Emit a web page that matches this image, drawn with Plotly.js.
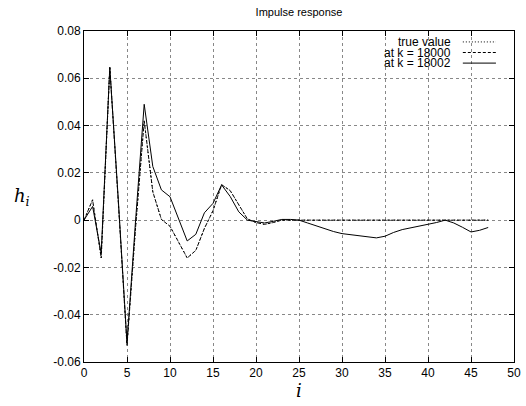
<!DOCTYPE html>
<html>
<head>
<meta charset="utf-8">
<script src="https://cdn.plot.ly/plotly-3.0.1.min.js"></script>
<style>html,body{margin:0;padding:0;background:#fff;}#chart{width:526px;height:406px;}</style>
</head>
<body>
<div id="chart"></div>
<script>
// ---- data ----
const idx = [];
for (let k = 0; k <= 47; k++) idx.push(k);
const trueValue = [0, 0.0086, -0.016, 0.0646, 0.007, -0.053, -0.003, 0.042, 0.012, 0.0003,
  -0.0026, -0.009, -0.016, -0.0128, -0.0035, 0.004, 0.015, 0.0125, 0.0064, 0.0005,
  -0.001, -0.0018, -0.001, 0, 0, 0, 0, 0, 0, 0,
  0, 0, 0, 0, 0, 0, 0, 0, 0, 0,
  0, 0, 0, 0, 0, 0, 0, 0];
const k18000 = [0, 0.0086, -0.016, 0.0646, 0.007, -0.053, -0.003, 0.042, 0.012, 0.0003,
  -0.0026, -0.009, -0.016, -0.0128, -0.0035, 0.004, 0.015, 0.0125, 0.0064, 0.0005,
  -0.001, -0.0018, -0.001, 0, 0, 0, 0, 0, 0, 0,
  0, 0, 0, 0, 0, 0, 0, 0, 0, 0,
  0, 0, 0, 0, 0, 0, 0, 0];
const k18002 = [0, 0.0058, -0.014, 0.0646, 0.008, -0.052, 0.0, 0.049, 0.0227, 0.0128,
  0.0099, 0.0005, -0.0088, -0.006, 0.0031, 0.0071, 0.0149, 0.010, 0.0035, 0.0,
  -0.0005, -0.0012, -0.0005, 0.0003, 0.0003, 0.0, -0.0012, -0.0025, -0.0037, -0.0048,
  -0.0057, -0.0061, -0.0064, -0.007, -0.0075, -0.0068, -0.0052, -0.004, -0.0033, -0.0026,
  -0.0018, -0.001, 0.0, -0.0012, -0.003, -0.005, -0.0043, -0.0031];
const seriesNames = ['true value', 'at k = 18000', 'at k = 18002'];
const xTickVals = [0, 5, 10, 15, 20, 25, 30, 35, 40, 45, 50];
const xTickText = ['0', '5', '10', '15', '20', '25', '30', '35', '40', '45', '50'];
const yTickVals = [-0.06, -0.04, -0.02, 0, 0.02, 0.04, 0.06, 0.08];
const yTickText = ['-0.06', '-0.04', '-0.02', '0', '0.02', '0.04', '0.06', '0.08'];

// ---- styles ----
const dashes = ['1px,2px', '3px,2px', 'solid'];
const series = [trueValue, k18000, k18002];
const traces = series.map((ys, n) => ({
  x: idx, y: ys, type: 'scatter', mode: 'lines', name: seriesNames[n],
  showlegend: false,
  line: {color: '#000', width: 1, dash: dashes[n]}
}));

const font = {family: 'Liberation Sans, Arial, sans-serif', size: 12, color: '#000'};

// custom gnuplot-like key: text then sample
const annotations = [];
const shapes = [];
const rowY = [0.967, 0.935, 0.903];
seriesNames.forEach((nm, n) => {
  annotations.push({xref: 'paper', yref: 'paper', x: 0.858, y: rowY[n], text: nm,
    showarrow: false, xanchor: 'right', yanchor: 'middle', font: font});
  shapes.push({type: 'line', xref: 'paper', yref: 'paper', x0: 0.881, x1: 0.958,
    y0: rowY[n], y1: rowY[n], line: {color: '#000', width: 1, dash: dashes[n]}});
});
annotations.push({xref: 'paper', yref: 'paper', x: -0.145, y: 0.5,
  text: '<i>h<sub>i</sub></i>', showarrow: false, xanchor: 'center', yanchor: 'middle',
  font: {family: 'DejaVu Serif, Liberation Serif, serif', size: 18, color: '#000'}});

const axisCommon = {
  showline: true, linecolor: '#000', linewidth: 1, mirror: 'ticks',
  ticks: 'inside', ticklen: 5, tickwidth: 1, tickcolor: '#000',
  showgrid: true, gridcolor: '#888', gridwidth: 1, griddash: 'dot',
  zeroline: false, tickfont: font
};

const layout = {
  width: 526, height: 406,
  margin: {l: 84, r: 12, t: 31, b: 44},
  paper_bgcolor: '#fff', plot_bgcolor: '#fff',
  title: {text: 'Impulse response', font: {family: 'Liberation Sans, Arial, sans-serif', size: 11, color: '#000'},
    x: 0.5685, xanchor: 'center', y: 0.97, yanchor: 'middle'},
  xaxis: Object.assign({}, axisCommon, {range: [0, 50], tickvals: xTickVals, ticktext: xTickText,
    title: {text: '<i>i</i>', font: {family: 'DejaVu Serif, Liberation Serif, serif', size: 18, color: '#000'}, standoff: 4}}),
  yaxis: Object.assign({}, axisCommon, {range: [-0.06, 0.08], tickvals: yTickVals, ticktext: yTickText}),
  annotations: annotations,
  shapes: shapes
};

Plotly.newPlot('chart', traces, layout, {staticPlot: true, displayModeBar: false});
</script>
</body>
</html>
